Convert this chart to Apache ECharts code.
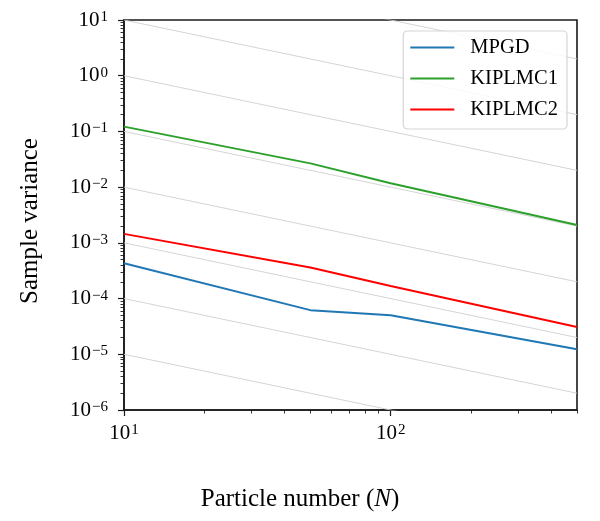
<!DOCTYPE html>
<html>
<head>
<meta charset="utf-8">
<script src="https://cdn.jsdelivr.net/npm/echarts@6/dist/echarts.min.js"></script>
<style>
  html, body { margin: 0; padding: 0; background: #fff; }
  #chart { width: 600px; height: 521px; }
</style>
</head>
<body>
<div id="chart"></div>
<script>
// particle numbers on the x axis
const particleN = [10, 50, 100, 500];

// sample variance per method
const mpgdVar = [4.3e-4, 6.2e-5, 5.0e-5, 1.23e-5];
const kiplmc1Var = [0.122, 0.0267, 0.0117, 0.0021];
const kiplmc2Var = [1.45e-3, 3.6e-4, 1.68e-4, 3.1e-5];

// grey 1/N guide lines: value at N=10 and at N=500
const guideAt10 = [1e-5, 1e-4, 1e-3, 1e-2, 1e-1, 1, 10, 100];
const guideAt500 = [2e-7, 2e-6, 2e-5, 2e-4, 2e-3, 2e-2, 0.2, 2];

// tick labels
const xMajor = [10, 100];
const yMajor = [1e-6, 1e-5, 1e-4, 1e-3, 1e-2, 1e-1, 1, 10];

const serif = '"Liberation Serif", "DejaVu Serif", serif';

// minor ticks at 2..9 of every decade
function minorTicks(lo, hi) {
    const out = [];
    for (let d = lo; d < hi; d *= 10) {
        for (let k = 2; k <= 9; k++) {
            const v = +(k * d).toPrecision(3);
            if (v <= hi) out.push(v);
        }
    }
    return out;
}
const xMinor = minorTicks(10, 500);
const yMinor = minorTicks(1e-6, 10);

function powLabel(v) {
    const e = Math.round(Math.log10(v));
    return '{b|10}{s|' + (e < 0 ? '\u2212' + (-e) : e) + '}';
}
const labelRich = {
    b: { fontFamily: serif, fontSize: 21, color: '#000', lineHeight: 21 },
    s: { fontFamily: serif, fontSize: 15, color: '#000', verticalAlign: 'top', lineHeight: 13, padding: [0, 0, 0, 1] }
};

const chart = echarts.init(document.getElementById('chart'));

const guideSeries = guideAt10.map((v, i) => ({
    type: 'line',
    silent: true,
    symbol: 'none',
    clip: true,
    z: 1,
    lineStyle: { color: '#cfcfcf', width: 0.9 },
    data: [[particleN[0], v], [particleN[particleN.length - 1], guideAt500[i]]]
}));

function methodSeries(name, values, color) {
    return {
        name: name,
        type: 'line',
        symbol: 'none',
        z: 5,
        lineStyle: { color: color, width: 2 },
        itemStyle: { color: color },
        data: particleN.map((n, i) => [n, values[i]])
    };
}

const option = {
    animation: false,
    grid: {
        left: 124, right: 23, top: 20, bottom: 111,
        show: true, borderColor: '#1a1a1a', borderWidth: 1.6
    },
    legend: {
        data: ['MPGD', 'KIPLMC1', 'KIPLMC2'],
        orient: 'vertical',
        right: 33, top: 31,
        padding: [6, 9, 9, 7],
        itemGap: 10,
        itemWidth: 44,
        itemHeight: 2,
        icon: 'rect',
        backgroundColor: 'rgba(255,255,255,0.85)',
        borderColor: '#d5d5d5',
        borderWidth: 1.2,
        borderRadius: 4,
        textStyle: { fontFamily: serif, fontSize: 20.5, color: '#000', padding: [0, 0, 0, 11], lineHeight: 20 }
    },
    xAxis: [{
        type: 'log', min: 10, max: 500,
        axisLine: { show: true, lineStyle: { color: '#1a1a1a', width: 1.6 } },
        axisTick: { show: true, customValues: xMajor, length: 6, lineStyle: { color: '#1a1a1a', width: 1.2 } },
        axisLabel: { customValues: xMajor, margin: 13, formatter: powLabel, rich: labelRich },
        splitLine: { show: false }
    }, {
        type: 'log', min: 10, max: 500, position: 'bottom',
        axisLine: { show: false },
        axisTick: { show: true, customValues: xMinor, length: 3.5, lineStyle: { color: '#1a1a1a', width: 0.9 } },
        axisLabel: { show: false },
        splitLine: { show: false }
    }],
    yAxis: [{
        type: 'log', min: 1e-6, max: 10,
        axisLine: { show: true, lineStyle: { color: '#1a1a1a', width: 1.6 } },
        axisTick: { show: true, customValues: yMajor, length: 6, lineStyle: { color: '#1a1a1a', width: 1.2 } },
        axisLabel: { customValues: yMajor, margin: 16, formatter: powLabel, rich: labelRich },
        splitLine: { show: false }
    }, {
        type: 'log', min: 1e-6, max: 10, position: 'left',
        axisLine: { show: false },
        axisTick: { show: true, customValues: yMinor, length: 3.5, lineStyle: { color: '#1a1a1a', width: 0.9 } },
        axisLabel: { show: false },
        splitLine: { show: false }
    }],
    graphic: [{
        type: 'text',
        x: 30, y: 221,
        rotation: Math.PI / 2,
        style: {
            text: 'Sample variance',
            font: '25px ' + serif,
            fill: '#000',
            textAlign: 'center',
            textVerticalAlign: 'middle'
        }
    }, {
        type: 'text',
        x: 300, y: 499,
        style: {
            text: '{a|Particle number (}{i|N}{a|)}',
            rich: {
                a: { fontFamily: serif, fontSize: 25, fill: '#000' },
                i: { fontFamily: serif, fontSize: 25, fontStyle: 'italic', fill: '#000' }
            },
            textAlign: 'center',
            textVerticalAlign: 'middle'
        }
    }],
    series: guideSeries.concat([
        methodSeries('MPGD', mpgdVar, '#1f77b4'),
        methodSeries('KIPLMC1', kiplmc1Var, '#2ca02c'),
        methodSeries('KIPLMC2', kiplmc2Var, '#ff0000')
    ])
};

chart.setOption(option);
</script>
</body>
</html>
